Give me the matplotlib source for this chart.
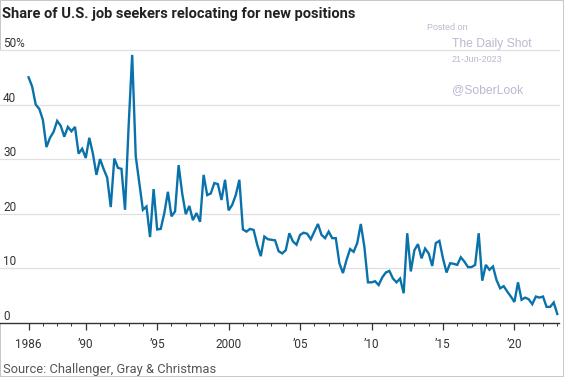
import matplotlib
matplotlib.use("Agg")
import matplotlib.pyplot as plt
import numpy as np

# Quarterly share (%) of job seekers relocating, starting Q1 1986
share = [
    45.0, 43.3, 40.0, 39.2,   # 1986
    37.2, 32.2, 33.9, 35.0,   # 1987
    37.0, 36.1, 34.1, 35.9,   # 1988
    35.1, 35.9, 31.0, 31.9,   # 1989
    30.2, 33.9, 31.0, 27.1,   # 1990
    30.0, 28.2, 26.6, 21.2,   # 1991
    30.1, 28.4, 28.2, 20.7,   # 1992
    36.0, 49.1, 30.5, 25.6,   # 1993
    20.7, 21.3, 15.7, 24.5,   # 1994
    17.1, 17.2, 20.1, 24.0,   # 1995
    19.5, 20.4, 28.9, 23.7,   # 1996
    19.9, 21.4, 18.8, 20.1,   # 1997
    18.5, 27.1, 23.4, 23.7,   # 1998
    25.6, 25.4, 22.5, 26.2,   # 1999
    20.6, 21.6, 23.4, 26.2,   # 2000
    17.1, 16.7, 17.2, 17.0,   # 2001
    14.3, 12.2, 15.8, 15.3,   # 2002
    15.2, 15.1, 13.1, 12.7,   # 2003
    13.3, 16.4, 14.9, 14.3,   # 2004
    16.1, 16.5, 16.3, 15.3,   # 2005
    16.7, 18.1, 16.1, 15.5,   # 2006
    16.7, 15.5, 15.5, 10.9,   # 2007
    9.1, 11.5, 13.5, 13.0,    # 2008
    14.6, 18.1, 13.9, 7.4,    # 2009
    7.4, 7.6, 6.9, 8.3,       # 2010
    9.2, 9.5, 8.1, 7.4,       # 2011
    8.1, 5.4, 16.4, 9.4,      # 2012
    13.3, 14.4, 11.8, 13.6,   # 2013
    12.7, 10.4, 14.6, 15.0,   # 2014
    11.8, 9.2, 10.9, 10.8,    # 2015
    10.6, 12.0, 11.2, 10.2,   # 2016
    10.2, 10.6, 16.4, 7.7,    # 2017
    10.6, 9.7, 10.3, 7.8,     # 2018
    6.3, 6.7, 5.7, 4.8,       # 2019
    3.8, 7.4, 4.2, 4.6,       # 2020
    4.3, 3.4, 4.8, 4.6,       # 2021
    4.8, 2.9, 2.9, 3.7,       # 2022
    1.6,                      # 2023
]
start_year = 1986
quarter_pos = start_year + np.arange(len(share)) / 4.0

major_years = [1986, 1990, 1995, 2000, 2005, 2010, 2015, 2020]
major_labels = ["1986", "\u201990", "\u201995", "2000", "\u201905", "\u201910", "\u201915", "\u201920"]
y_ticks = [0, 10, 20, 30, 40, 50]
y_labels = ["0", "10", "20", "30", "40", "50%"]

title = "Share of U.S. job seekers relocating for new positions"
source = "Source: Challenger, Gray & Christmas"

W, H = 564, 377
fig = plt.figure(figsize=(W / 100, H / 100), dpi=100)
fig.patch.set_facecolor("white")
fig.patch.set_edgecolor("#c8c8c8")
fig.patch.set_linewidth(1.2)

left_px, right_px, top_px, bottom_px = 0, 559, 50, 322.7
ax = fig.add_axes([left_px / W, (H - bottom_px) / H, (right_px - left_px) / W, (bottom_px - top_px) / H])
ax.set_xlim(1984.0, 2023.12)
ax.set_ylim(0, 50)

ax.plot(quarter_pos, share, color="#0a72ab", lw=1.7, solid_joinstyle="miter", zorder=3, clip_on=False)

for v in y_ticks[1:]:
    ax.axhline(v, color="#e0e0e0", lw=0.9, zorder=1, clip_on=False)

for s in ["top", "right", "left"]:
    ax.spines[s].set_visible(False)
ax.spines["bottom"].set_color("#333333")
ax.spines["bottom"].set_linewidth(1.0)

ax.set_yticks([])
ax.set_xticks(major_years)
ax.set_xticklabels(major_labels)
ax.set_xticks(np.arange(1986, 2024), minor=True)
ax.tick_params(axis="x", which="major", length=5, width=0.9, color="#333333",
               labelsize=8.5, labelcolor="#333333", pad=6)
ax.tick_params(axis="x", which="minor", length=2.5, width=0.7, color="#333333")
for lab in ax.get_xticklabels():
    lab.set_family("Roboto")

for v, lab in zip(y_ticks, y_labels):
    ax.annotate(lab, xy=(0, v), xycoords=("axes fraction", "data"),
                xytext=(3, 0), textcoords="offset pixels",
                ha="left", va="bottom", fontsize=8.5, color="#333333", family="Roboto")

fig.text(2 / W, 1 - 14 / H, title, ha="left", va="center", fontsize=10.5,
         fontweight="bold", color="#222222", family="Roboto")
fig.text(3 / W, 1 - 369 / H, source, ha="left", va="center", fontsize=9.3,
         color="#555555", family="Roboto")

wm = "#b9b9d2"
fig.text(427 / W, 1 - 28 / H, "Posted on", ha="left", va="center", fontsize=6.5, color=wm, family="Liberation Sans")
fig.text(452 / W, 1 - 44 / H, "The Daily Shot", ha="left", va="center", fontsize=8.7, color=wm, family="Liberation Sans")
fig.text(452 / W, 1 - 60 / H, "21-Jun-2023", ha="left", va="center", fontsize=6.5, color=wm, family="Liberation Sans")
fig.text(452 / W, 1 - 90 / H, "@SoberLook", ha="left", va="center", fontsize=8.7, color=wm, family="Liberation Sans")

fig.savefig("out.png", dpi=100, facecolor=fig.get_facecolor(), edgecolor=fig.get_edgecolor())
